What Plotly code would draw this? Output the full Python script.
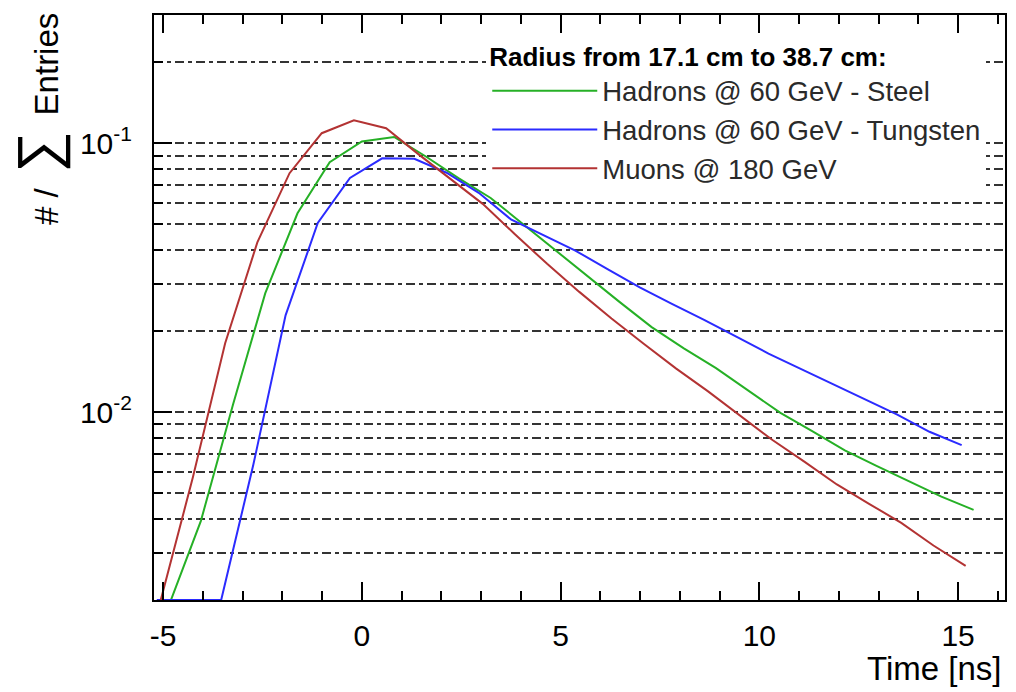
import plotly.graph_objects as go

# Time bin centres [ns] and normalised entries for each sample
time_steel = [-4.86, -4.05, -3.24, -2.43, -1.62, -0.81, 0.00, 0.81, 1.62, 2.43, 3.24, 4.05, 4.86,
              5.67, 6.48, 7.29, 8.10, 8.91, 9.72, 10.53, 11.34, 12.15, 12.96, 13.77, 14.58, 15.39]
frac_steel = [0.0019, 0.00394, 0.0107, 0.0277, 0.0549, 0.085, 0.1016, 0.1055, 0.0891, 0.0742, 0.0626,
              0.05005, 0.0402, 0.0320, 0.0257, 0.0207, 0.01726, 0.01457, 0.0120, 0.00993, 0.00847,
              0.0072, 0.0063, 0.00552, 0.00485, 0.00433]

time_tungsten = [-5.16, -4.35, -3.54, -2.73, -1.92, -1.11, -0.30, 0.51, 1.32, 2.13, 2.94, 3.75, 4.56,
                 5.37, 6.18, 6.99, 7.80, 8.61, 9.42, 10.23, 11.04, 11.85, 12.66, 13.47, 14.28, 15.09]
frac_tungsten = [0.002, 0.002, 0.002, 0.00638, 0.0229, 0.0505, 0.0743, 0.0879, 0.0876, 0.0777, 0.0654,
                 0.0521, 0.0455, 0.0399, 0.0340, 0.0291, 0.02525, 0.02205, 0.0191, 0.0165, 0.01447,
                 0.01267, 0.0111, 0.00978, 0.00845, 0.00754]

time_muons = [-5.06, -4.25, -3.44, -2.63, -1.82, -1.01, -0.20, 0.61, 1.42, 2.23, 3.04, 3.85, 4.66,
              5.47, 6.28, 7.09, 7.90, 8.71, 9.52, 10.33, 11.14, 11.95, 12.76, 13.57, 14.38, 15.19]
frac_muons = [0.0020, 0.00573, 0.01805, 0.0428, 0.0774, 0.109, 0.1218, 0.1137, 0.0911, 0.0739, 0.0595,
              0.0459, 0.0356, 0.0280, 0.0223, 0.01795, 0.01454, 0.01194, 0.0097, 0.00787, 0.00653,
              0.00538, 0.00456, 0.00387, 0.00319, 0.00268]

series_names = ["Hadrons @ 60 GeV - Steel", "Hadrons @ 60 GeV - Tungsten", "Muons @ 180 GeV"]
series_colors = ["#26b026", "#2b2bff", "#b33333"]
legend_header = "Radius from 17.1 cm to 38.7 cm:"

x_ticks = [-5, 0, 5, 10, 15]
y_major = [0.01, 0.1]
y_major_text = ["10<sup>-2</sup>", "10<sup>-1</sup>"]
y_minor = [0.002, 0.003, 0.004, 0.005, 0.006, 0.007, 0.008, 0.009,
           0.02, 0.03, 0.04, 0.05, 0.06, 0.07, 0.08, 0.09, 0.2, 0.3]

FONT = "Liberation Sans, Arial, Helvetica, sans-serif"
GRID_DASH = "9px,4px,4px,4px"
GRID_COLOR = "#333333"

fig = go.Figure()
for t, v, name, col in zip([time_steel, time_tungsten, time_muons],
                           [frac_steel, frac_tungsten, frac_muons],
                           series_names, series_colors):
    fig.add_trace(go.Scatter(x=t, y=v, mode="lines", name=name,
                             line=dict(color=col, width=2)))

fig.update_layout(
    width=1016, height=692,
    margin=dict(l=154, r=9, t=15, b=92),
    paper_bgcolor="white", plot_bgcolor="white",
    font=dict(family=FONT, color="black"),
    showlegend=True,
    legend=dict(
        x=0.3916, xanchor="left", y=0.97, yanchor="top",
        bgcolor="white", borderwidth=0,
        font=dict(size=27.5, family=FONT, color="#2a2a2a"),
        title=dict(text="<b>" + legend_header + "</b>", font=dict(size=26, family=FONT, color="black")),
        itemwidth=105, tracegroupgap=0,
    ),
)

fig.update_xaxes(
    range=[-5.23, 16.18],
    showline=True, linecolor="black", linewidth=2, mirror="ticks",
    ticks="inside", ticklen=18, tickwidth=1.5, tickcolor="black",
    tickvals=x_ticks, ticktext=[str(v) for v in x_ticks],
    tickfont=dict(size=30, family=FONT, color="black"),
    ticklabelstandoff=8,
    showgrid=False, zeroline=False,
    minor=dict(dtick=1, ticks="inside", ticklen=9, tickwidth=1.5, tickcolor="black", showgrid=False),
)

fig.update_yaxes(
    type="log", range=[-2.69897, -0.52288],
    showline=True, linecolor="black", linewidth=2, mirror=True,
    ticks="inside", ticklen=18, tickwidth=1.5, tickcolor="black",
    tickvals=y_major, ticktext=y_major_text,
    tickfont=dict(size=30, family=FONT, color="black"),
    ticklabelstandoff=14,
    showgrid=True, gridcolor=GRID_COLOR, gridwidth=2, griddash=GRID_DASH,
    zeroline=False,
    minor=dict(tickvals=y_minor, ticks="inside", ticklen=9, tickwidth=1.5, tickcolor="black",
               showgrid=True, gridcolor=GRID_COLOR, gridwidth=2, griddash=GRID_DASH),
)

# Axis titles in the ROOT style: y title top-aligned, x title right-aligned
fig.add_annotation(
    xref="paper", yref="paper", x=0, y=1, xshift=-116, yshift=4,
    xanchor="center", yanchor="top", textangle=-90, showarrow=False,
    text="#\u00a0/\u00a0\u2009<span style='font-size:58px'>∑</span>\u00a0\u2009Entries",
    font=dict(size=33, family=FONT, color="black"),
)
fig.add_annotation(
    xref="paper", yref="paper", x=1, y=0, xshift=-2, yshift=-48,
    xanchor="right", yanchor="top", showarrow=False,
    text="Time [ns]",
    font=dict(size=33, family=FONT, color="black"),
)

fig.write_html("out.html")
